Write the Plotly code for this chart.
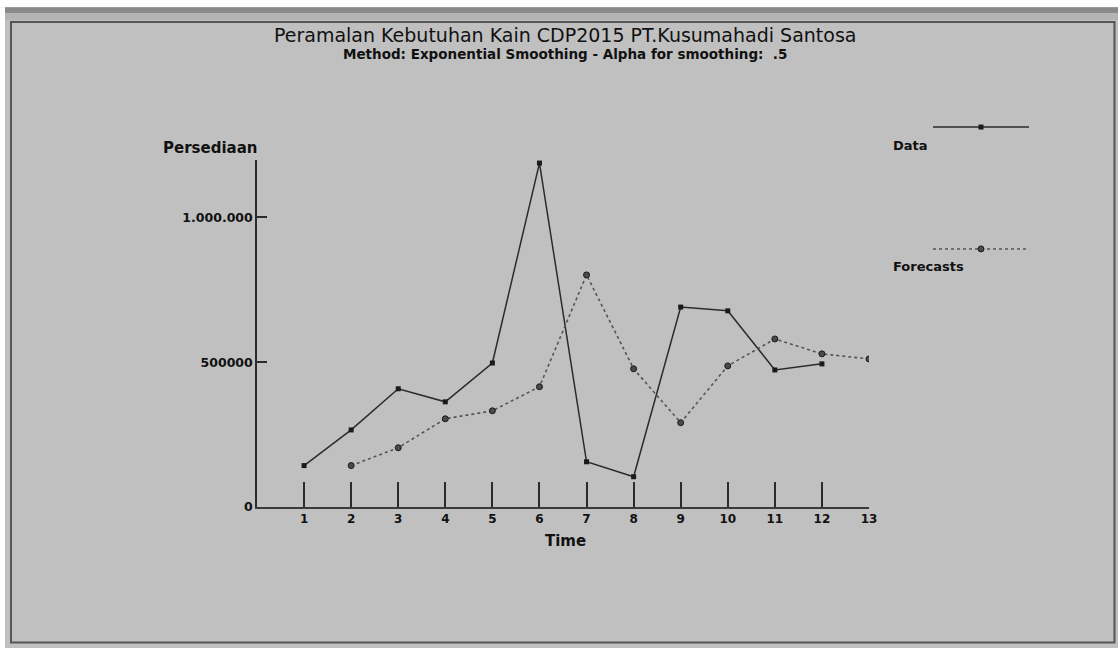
import plotly.graph_objects as go

# ---- data ----
time_data = [1, 2, 3, 4, 5, 6, 7, 8, 9, 10, 11, 12]
data_values = [143000, 266000, 408000, 363000, 497000, 1187000, 156000, 104500, 690000, 677000, 473000, 494000]
time_fc = [2, 3, 4, 5, 6, 7, 8, 9, 10, 11, 12, 13]
forecast_values = [143000, 204500, 304500, 332000, 415000, 801000, 477000, 291000, 487000, 580000, 528500, 511000]
x_ticks = list(range(1, 14))
y_tickvals = [0, 500000, 1000000]
y_ticktext = ["0", "500000", "1.000.000"]

title_text = "Peramalan Kebutuhan Kain CDP2015 PT.Kusumahadi Santosa"
subtitle_text = "Method: Exponential Smoothing - Alpha for smoothing:  .5"

# ---- layout geometry (pixels) ----
FW, FH = 1118, 648
L, R = 257, 869      # x=0 and x=13
T, B = 160, 507.3    # top of y axis and y=0
W, H = R - L, B - T
YMAX = (B - T) / 0.29 * 1000

def px(x):
    return (x - L) / W

def py(y):
    return (B - y) / H

BG = "#c0c0c0"
DARK = "#2b2b2b"
FONT = "DejaVu Sans, Verdana, sans-serif"
TFONT = "DejaVu Sans, Arial, sans-serif"

fig = go.Figure()
fig.add_trace(go.Scatter(
    x=time_data, y=data_values, mode="lines+markers", name="Data",
    line=dict(color=DARK, width=1.5),
    marker=dict(symbol="square", size=5, color="#1a1a1a"),
))
fig.add_trace(go.Scatter(
    x=time_fc, y=forecast_values, mode="lines+markers", name="Forecasts",
    line=dict(color="#555555", width=1.6, dash="dot"),
    marker=dict(symbol="circle", size=6, color="#4a4a4a", line=dict(color="#1a1a1a", width=1)),
))

shapes = []
# window frame
shapes.append(dict(type="rect", xref="paper", yref="paper", x0=px(-5), x1=px(FW + 5), y0=py(-5), y1=py(7),
                   fillcolor="white", line_width=0, layer="below"))
shapes.append(dict(type="rect", xref="paper", yref="paper", x0=px(-5), x1=px(5), y0=py(FH + 5), y1=py(7),
                   fillcolor="white", line_width=0, layer="below"))
shapes.append(dict(type="rect", xref="paper", yref="paper", x0=px(5), x1=px(FW + 5), y0=py(13), y1=py(7),
                   fillcolor="#8a8a8a", line_width=0, layer="below"))
shapes.append(dict(type="rect", xref="paper", yref="paper", x0=px(5), x1=px(FW + 5), y0=py(20), y1=py(13),
                   fillcolor="#b4b4b4", line_width=0, layer="below"))
shapes.append(dict(type="rect", xref="paper", yref="paper", x0=px(11), x1=px(1114.5), y0=py(643), y1=py(22),
                   fillcolor=BG, line=dict(color="#555555", width=2), layer="below"))

# legend samples
for yy, dash, col in [(127, "solid", DARK), (249, "dot", "#555555")]:
    shapes.append(dict(type="line", xref="paper", yref="paper", x0=px(933), x1=px(1029), y0=py(yy), y1=py(yy),
                       line=dict(color=col, width=1.5, dash=dash)))
shapes.append(dict(type="rect", xref="paper", yref="paper", x0=px(978.5), x1=px(983.5), y0=py(129.5), y1=py(124.5),
                   fillcolor="#1a1a1a", line_width=0))
shapes.append(dict(type="circle", xref="paper", yref="paper", x0=px(978), x1=px(984), y0=py(252), y1=py(246),
                   fillcolor="#4a4a4a", line=dict(color="#1a1a1a", width=1)))

annotations = [
    dict(text=title_text, x=px(565), y=py(35), xref="paper", yref="paper", showarrow=False,
         font=dict(family=TFONT, size=19, color="#111111"), xanchor="center", yanchor="middle"),
    dict(text=subtitle_text, x=px(565), y=py(54), xref="paper", yref="paper", showarrow=False,
         font=dict(family=FONT, size=13.5, color="#111111", weight="bold"), xanchor="center", yanchor="middle"),
    dict(text="Persediaan", x=px(161), y=py(148), xref="paper", yref="paper", showarrow=False,
         font=dict(family=FONT, size=15, color="#111111", weight="bold"), xanchor="left", yanchor="middle"),
    dict(text="Time", x=px(565), y=py(541), xref="paper", yref="paper", showarrow=False,
         font=dict(family=FONT, size=15, color="#111111", weight="bold"), xanchor="center", yanchor="middle"),
    dict(text="Data", x=px(891), y=py(145), xref="paper", yref="paper", showarrow=False,
         font=dict(family=FONT, size=13, color="#111111", weight="bold"), xanchor="left", yanchor="middle"),
    dict(text="Forecasts", x=px(891), y=py(267), xref="paper", yref="paper", showarrow=False,
         font=dict(family=FONT, size=13, color="#111111", weight="bold"), xanchor="left", yanchor="middle"),
]

fig.update_layout(
    width=FW, height=FH,
    margin=dict(l=L, r=FW - R, t=T, b=FH - B, pad=0),
    paper_bgcolor=BG, plot_bgcolor=BG,
    showlegend=False,
    shapes=shapes, annotations=annotations,
    xaxis=dict(range=[0, 13], tickvals=x_ticks, ticktext=[str(v) for v in x_ticks],
               showgrid=False, zeroline=False, showline=True, linecolor="#3a3a3a", linewidth=2,
               ticks="inside", ticklen=25, tickwidth=1.5, tickcolor="#2b2b2b",
               tickfont=dict(family=FONT, size=12, color="#111111", weight="bold")),
    yaxis=dict(range=[0, YMAX], tickvals=y_tickvals, ticktext=y_ticktext,
               showgrid=False, zeroline=False, showline=True, linecolor="#2b2b2b", linewidth=1.5,
               ticks="inside", ticklen=10, tickwidth=1.5, tickcolor="#2b2b2b", ticklabelstandoff=0,
               tickfont=dict(family=FONT, size=12.5, color="#111111", weight="bold")),
)

fig.write_html("out.html", config={"displayModeBar": False},
               post_script="document.body.style.margin='0px';document.body.style.overflow='hidden';")
